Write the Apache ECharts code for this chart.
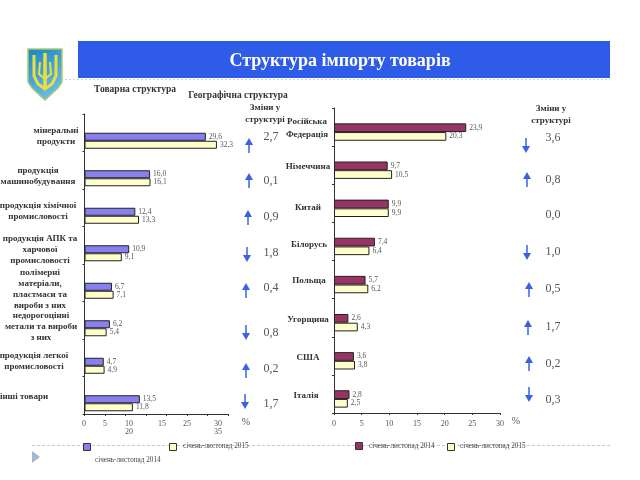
<!DOCTYPE html>
<html>
<head>
<meta charset="utf-8">
<style>
  html, body { margin: 0; background: #fff; }
  #chart { width: 640px; height: 480px; }
</style>
<script src="https://cdn.jsdelivr.net/npm/echarts@6/dist/echarts.min.js"></script>
</head>
<body>
<div id="chart"></div>
<script>
// товарна структура
var goods = [
  'мінеральні\nпродукти',
  'продукція\nмашинобудування',
  'продукція хімічної\nпромисловості',
  'продукція АПК та\nхарчової\nпромисловості',
  'полімерні\nматеріали,\nпластмаси та\nвироби з них',
  'недорогоцінні\nметали та вироби\nз них',
  'продукція легкої\nпромисловості',
  'інші товари'
];
var goods2014 = [29.6, 16.0, 12.4, 10.9, 6.7, 6.2, 4.7, 13.5];
var goods2015 = [32.3, 16.1, 13.3, 9.1, 7.1, 5.4, 4.9, 11.8];
var goodsChange = ['2,7', '0,1', '0,9', '1,8', '0,4', '0,8', '0,2', '1,7'];
var goodsDir = [1, 1, 1, -1, 1, -1, 1, -1];

// географічна структура
var countries = ['Російська\nФедерація', 'Німеччина', 'Китай', 'Білорусь', 'Польща', 'Угорщина', 'США', 'Італія'];
var geo2014 = [23.9, 9.7, 9.9, 7.4, 5.7, 2.6, 3.6, 2.8];
var geo2015 = [20.3, 10.5, 9.9, 6.4, 6.2, 4.3, 3.8, 2.5];
var geoChange = ['3,6', '0,8', '0,0', '1,0', '0,5', '1,7', '0,2', '0,3'];
var geoDir = [-1, 1, 0, -1, 1, 1, 1, -1];

var leftTickRow1 = ['0', '5', '10', '15', '25', '30'];
var leftTickRow2 = ['20', '35'];

// layout of the free-standing text, not data
var goodsLabelX = [56, 38, 38, 40, 40, 41, 34, 24];
var goodsLabelY = [136, 176, 211, 250, 289, 327, 361, 397];
var countryLabelX = [307, 308, 308, 309, 309, 308, 308, 306];
var countryLabelY = [128, 167, 208, 245, 281, 320, 358, 396];
var goodsArrowX = [249, 249, 248, 247, 246, 246, 246, 245];
var goodsArrowY = [145, 180, 217, 255, 290, 333, 370, 402];
var goodsChangeY = [137, 181, 217, 253, 288, 333, 369, 404];
var geoArrowX = [526, 527, 0, 527, 529, 528, 529, 529];
var geoArrowY = [146, 179, 0, 253, 289, 327, 363, 395];
var geoChangeY = [138, 180, 215, 252, 289, 327, 364, 400];
var leftTick1X = [84, 105, 129, 162, 187, 218];
var leftTick2X = [129, 218];

var SERIF = '"Liberation Serif", "DejaVu Serif", serif';
var BLUE = '#8880f0', MAROON = '#993366', CREAM = '#ffffcc', EDGE = '#222';

function comma(p) { return String(p.value.toFixed(1)).replace('.', ','); }

function text(x, y, str, size, opts) {
  opts = opts || {};
  return {
    type: 'text', x: x, y: y, z: 10,
    style: {
      text: str,
      font: (opts.bold ? 'bold ' : '') + size + 'px ' + SERIF,
      fill: opts.fill || '#333',
      align: opts.align || 'center',
      verticalAlign: 'middle',
      lineHeight: opts.lineHeight || size + 2
    }
  };
}

function arrow(x, y, dir) {
  var tip = y - dir * 7, neck = y - dir * 1, tail = y + dir * 8;
  return [
    { type: 'line', z: 10, shape: { x1: x, y1: neck, x2: x, y2: tail }, style: { stroke: '#3a62e0', lineWidth: 1.5 } },
    { type: 'polygon', z: 10, shape: { points: [[x, tip], [x - 4, neck + dir], [x + 4, neck + dir]] }, style: { fill: '#3a62e0' } }
  ];
}

function swatch(x, y, color) {
  return { type: 'rect', z: 10, shape: { x: x, y: y, width: 7, height: 7 }, style: { fill: color, stroke: '#333', lineWidth: 1 } };
}

function barSeries(name, data, color, width, gridIdx) {
  return {
    name: name, type: 'bar', data: data, xAxisIndex: gridIdx, yAxisIndex: gridIdx,
    barWidth: width, barGap: 0,
    itemStyle: { color: color, borderColor: EDGE, borderWidth: 1 },
    label: { show: true, position: 'right', distance: 3, formatter: comma, fontFamily: SERIF, fontSize: 7.5, color: '#555' },
    silent: true
  };
}

// empty slot: the bar pairs sit below the middle of each band in the source
function spacer(width, gridIdx) {
  return { type: 'bar', data: [], xAxisIndex: gridIdx, yAxisIndex: gridIdx, barWidth: width, barGap: 0, silent: true };
}

function xAxis(gridIdx, max, showLabel) {
  return {
    type: 'value', gridIndex: gridIdx, min: 0, max: max, interval: 5,
    splitLine: { show: false },
    axisLine: { show: true, lineStyle: { color: '#333', width: 1 } },
    axisTick: { show: true, length: 2, lineStyle: { color: '#333' } },
    axisLabel: { show: showLabel, fontFamily: SERIF, fontSize: 8, color: '#555', margin: 7, showMaxLabel: true }
  };
}

function yAxis(gridIdx, cats) {
  return {
    type: 'category', gridIndex: gridIdx, data: cats, inverse: true,
    axisLine: { show: true, onZero: false, lineStyle: { color: '#333', width: 1 } },
    axisTick: { show: true, length: 2, lineStyle: { color: '#333' } },
    axisLabel: { show: false }
  };
}

var graphics = [
  // шапка
  { type: 'rect', shape: { x: 78, y: 41, width: 532, height: 37 }, style: { fill: '#2f5be9' } },
  { type: 'line', shape: { x1: 65, y1: 79.5, x2: 610, y2: 79.5 }, style: { stroke: '#c9cfe6', lineWidth: 1, lineDash: [2, 2] } },
  text(340, 61, 'Структура імпорту товарів', 18, { bold: true, fill: '#fff' }),
  // герб
  { type: 'polygon', shape: { points: [[28, 49], [62, 49], [62, 82], [58, 88], [45, 100], [32, 88], [28, 82]] },
    style: { fill: new echarts.graphic.LinearGradient(0, 0, 1, 1, [{ offset: 0, color: '#1783c4' }, { offset: 1, color: '#7cc8ec' }]), stroke: '#a9cc6a', lineWidth: 1.5 } },
  { type: 'polyline', shape: { points: [[45, 53], [45, 90]] }, style: { stroke: '#ecdf3c', lineWidth: 3.5, fill: null } },
  { type: 'polyline', shape: { points: [[34, 55], [34, 76], [38, 84], [45, 89], [52, 84], [56, 76], [56, 55]] }, style: { stroke: '#ecdf3c', lineWidth: 3, fill: null } },
  { type: 'polyline', shape: { points: [[40, 62], [39, 74], [45, 79], [51, 74], [50, 62]] }, style: { stroke: '#ecdf3c', lineWidth: 2, fill: null } },
  // заголовки
  text(135, 90, 'Товарна структура', 9.5, { bold: true }),
  text(238, 96, 'Географічна структура', 9.5, { bold: true }),
  text(265, 114, 'Зміни у\nструктурі', 9, { bold: true, lineHeight: 12 }),
  text(551, 115, 'Зміни у\nструктурі', 9, { bold: true, lineHeight: 12 }),
  text(246, 422, '%', 10, { fill: '#555' }),
  text(516, 421, '%', 10, { fill: '#555' }),
  // легенда
  { type: 'line', shape: { x1: 32, y1: 445.5, x2: 610, y2: 445.5 }, style: { stroke: '#c8c8c8', lineWidth: 1, lineDash: [3, 2] } },
  { type: 'polygon', shape: { points: [[32, 451], [40, 457], [32, 463]] }, style: { fill: '#a3b8cc' } },
  swatch(83.5, 443.5, BLUE),
  swatch(169.5, 443.5, CREAM),
  swatch(355.5, 442.5, MAROON),
  swatch(447.5, 443.5, CREAM),
  text(183, 446, 'січень-листопад 2015', 7.2, { align: 'left', fill: '#444' }),
  text(95, 460, 'січень-листопад 2014', 7.2, { align: 'left', fill: '#444' }),
  text(369, 446, 'січень-листопад 2014', 7.2, { align: 'left', fill: '#444' }),
  text(460, 446, 'січень-листопад 2015', 7.2, { align: 'left', fill: '#444' })
];

goods.forEach(function (g, i) {
  graphics.push(text(goodsLabelX[i], goodsLabelY[i], g, 9, { bold: true, lineHeight: 11 }));
  graphics.push(text(271, goodsChangeY[i], goodsChange[i], 12, { fill: '#555' }));
  graphics = graphics.concat(arrow(goodsArrowX[i], goodsArrowY[i], goodsDir[i]));
});
countries.forEach(function (c, i) {
  graphics.push(text(countryLabelX[i], countryLabelY[i], c, 9, { bold: true, lineHeight: 13 }));
  graphics.push(text(553, geoChangeY[i], geoChange[i], 12, { fill: '#555' }));
  if (geoDir[i] !== 0) graphics = graphics.concat(arrow(geoArrowX[i], geoArrowY[i], geoDir[i]));
});
leftTickRow1.forEach(function (t, i) { graphics.push(text(leftTick1X[i], 424, t, 8, { fill: '#555' })); });
leftTickRow2.forEach(function (t, i) { graphics.push(text(leftTick2X[i], 432, t, 8, { fill: '#555' })); });

var chart = echarts.init(document.getElementById('chart'), null, { renderer: 'canvas' });
chart.setOption({
  animation: false,
  backgroundColor: '#fff',
  grid: [
    { left: 84.5, top: 114, width: 143.5, height: 300 },
    { left: 334, top: 108, width: 166, height: 305 }
  ],
  xAxis: [xAxis(0, 35, false), xAxis(1, 30, true)],
  yAxis: [yAxis(0, goods), yAxis(1, countries)],
  series: [
    spacer(16, 0),
    barSeries('січень-листопад 2014', goods2014, BLUE, 8, 0),
    barSeries('січень-листопад 2015', goods2015, CREAM, 8, 0),
    spacer(10, 1),
    barSeries('січень-листопад 2014', geo2014, MAROON, 8.7, 1),
    barSeries('січень-листопад 2015', geo2015, CREAM, 8.7, 1)
  ],
  graphic: graphics
});
</script>
</body>
</html>
